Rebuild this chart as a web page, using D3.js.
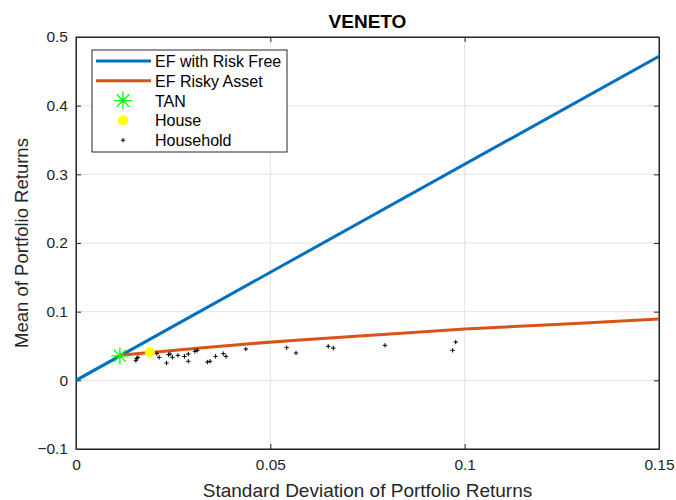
<!DOCTYPE html>
<html>
<head>
<meta charset="utf-8">
<script src="https://cdn.jsdelivr.net/npm/d3@7"></script>
<style>
  body { margin: 0; background: #fff; }
  text { font-family: "Liberation Sans", Arial, Helvetica, sans-serif; }
</style>
</head>
<body>
<div id="chart"></div>
<script>
// capital market line (EF with risk free)
const cmlSigma = [0, 0.15];
const cmlMean = [0, 0.472];

// efficient frontier of risky assets
const efSigma = [0.0113, 0.019, 0.0319, 0.0448, 0.0576, 0.0808, 0.1001, 0.1297, 0.15];
const efMean = [0.0364, 0.0405, 0.0472, 0.0534, 0.0588, 0.0676, 0.0746, 0.0833, 0.0893];

// tangency portfolio and house
const tanPoint = [0.0113, 0.0355];
const housePoint = [0.019, 0.041];

// households
const hhSigma = [0.0154, 0.0156, 0.0159, 0.0208, 0.0214, 0.0233, 0.0238, 0.0242,
  0.0248, 0.0262, 0.0279, 0.0289, 0.0289, 0.0306, 0.0312, 0.0338, 0.0345, 0.0359,
  0.0379, 0.0386, 0.0437, 0.0542, 0.0566, 0.0649, 0.0662, 0.0795, 0.0977, 0.0969];
const hhMean = [0.0287, 0.0316, 0.0335, 0.0389, 0.0335, 0.0252, 0.0374, 0.0383,
  0.0335, 0.0364, 0.0349, 0.0383, 0.0277, 0.0422, 0.0437, 0.0266, 0.0277, 0.0349,
  0.0389, 0.0349, 0.0456, 0.0476, 0.0398, 0.0495, 0.047, 0.051, 0.0558, 0.0437];

const xTicks = [0, 0.05, 0.1, 0.15];
const yTicks = [-0.1, 0, 0.1, 0.2, 0.3, 0.4, 0.5];

const width = 676;
const height = 500;
const margin = { left: 76, right: 17, top: 37, bottom: 51 };

const svg = d3.select("#chart")
  .append("svg")
  .attr("width", width)
  .attr("height", height);

const x = d3.scaleLinear().domain([0, 0.15]).range([margin.left, width - margin.right]);
const y = d3.scaleLinear().domain([-0.1, 0.5]).range([height - margin.bottom, margin.top]);

const axisColor = "#262626";

// grid
svg.append("g")
  .selectAll("line")
  .data(xTicks)
  .join("line")
  .attr("x1", d => x(d)).attr("x2", d => x(d))
  .attr("y1", y(0.5)).attr("y2", y(-0.1))
  .attr("stroke", "#e3e3e3");

svg.append("g")
  .selectAll("line")
  .data(yTicks)
  .join("line")
  .attr("x1", x(0)).attr("x2", x(0.15))
  .attr("y1", d => y(d)).attr("y2", d => y(d))
  .attr("stroke", "#e3e3e3");

// axes
svg.append("g")
  .attr("transform", `translate(0,${y(-0.1)})`)
  .call(d3.axisBottom(x).tickValues(xTicks).tickSizeInner(-5).tickSizeOuter(0).tickPadding(10)
    .tickFormat(d => d3.format("")(d)));

svg.append("g")
  .attr("transform", `translate(${x(0)},0)`)
  .call(d3.axisLeft(y).tickValues(yTicks).tickSizeInner(-5).tickSizeOuter(0).tickPadding(8)
    .tickFormat(d => d === 0 ? "0" : d3.format("")(+d.toFixed(1))));

// top and right ticks
svg.append("g")
  .attr("transform", `translate(0,${y(0.5)})`)
  .call(d3.axisTop(x).tickValues(xTicks).tickSizeInner(-5).tickSizeOuter(0).tickFormat(""));
svg.append("g")
  .attr("transform", `translate(${x(0.15)},0)`)
  .call(d3.axisRight(y).tickValues(yTicks).tickSizeInner(-5).tickSizeOuter(0).tickFormat(""));

svg.selectAll(".domain").attr("stroke", axisColor);
svg.selectAll(".tick line").attr("stroke", axisColor);
svg.selectAll(".tick text")
  .attr("fill", axisColor)
  .attr("font-size", "15.5px")
  .style("font-family", "Liberation Sans, Arial, sans-serif");

// box
svg.append("rect")
  .attr("x", x(0)).attr("y", y(0.5))
  .attr("width", x(0.15) - x(0)).attr("height", y(-0.1) - y(0.5))
  .attr("fill", "none").attr("stroke", axisColor);

// clip for lines
svg.append("clipPath").attr("id", "clip")
  .append("rect")
  .attr("x", x(0)).attr("y", y(0.5))
  .attr("width", x(0.15) - x(0)).attr("height", y(-0.1) - y(0.5));

const plot = svg.append("g").attr("clip-path", "url(#clip)");

const line = d3.line().x(d => x(d[0])).y(d => y(d[1]));

plot.append("path")
  .datum(cmlSigma.map((s, i) => [s, cmlMean[i]]))
  .attr("d", line)
  .attr("fill", "none")
  .attr("stroke", "#0072BD")
  .attr("stroke-width", 3);

plot.append("path")
  .datum(efSigma.map((s, i) => [s, efMean[i]]))
  .attr("d", d3.line().x(d => x(d[0])).y(d => y(d[1])).curve(d3.curveMonotoneX))
  .attr("fill", "none")
  .attr("stroke", "#D95319")
  .attr("stroke-width", 3);

// marker helpers
function plus(g, cx, cy, r, color, sw) {
  g.append("path")
    .attr("d", `M${cx - r},${cy}H${cx + r}M${cx},${cy - r}V${cy + r}`)
    .attr("stroke", color).attr("stroke-width", sw).attr("fill", "none");
}
function star(g, cx, cy, r, color, sw) {
  const d = `M${cx - r},${cy}H${cx + r}M${cx},${cy - r}V${cy + r}` +
    `M${cx - r * 0.7},${cy - r * 0.7}L${cx + r * 0.7},${cy + r * 0.7}` +
    `M${cx - r * 0.7},${cy + r * 0.7}L${cx + r * 0.7},${cy - r * 0.7}`;
  g.append("path").attr("d", d).attr("stroke", color).attr("stroke-width", sw).attr("fill", "none");
}

// households
const hh = plot.append("g");
hhSigma.forEach((s, i) => plus(hh, x(s), y(hhMean[i]), 2.2, "#000", 1));

// house
plot.append("circle")
  .attr("cx", x(housePoint[0])).attr("cy", y(housePoint[1]))
  .attr("r", 5).attr("fill", "#FFFF00");

// TAN
star(svg.append("g"), x(tanPoint[0]), y(tanPoint[1]), 8.5, "#00FF00", 1.3);

// title and labels
svg.append("text")
  .attr("x", (x(0) + x(0.15)) / 2).attr("y", 28)
  .attr("text-anchor", "middle")
  .attr("font-weight", "bold")
  .attr("font-size", "19px")
  .attr("fill", "#000")
  .text("VENETO");

svg.append("text")
  .attr("x", (x(0) + x(0.15)) / 2).attr("y", 497)
  .attr("text-anchor", "middle")
  .attr("font-size", "19px")
  .attr("fill", axisColor)
  .text("Standard Deviation of Portfolio Returns");

svg.append("text")
  .attr("transform", `translate(28,${(y(0.5) + y(-0.1)) / 2}) rotate(-90)`)
  .attr("text-anchor", "middle")
  .attr("font-size", "18.5px")
  .attr("fill", axisColor)
  .text("Mean of Portfolio Returns");

// ---------------------------LEGEND-----------------------------------
const legendItems = ["EF with Risk Free", "EF Risky Asset", "TAN", "House", "Household"];
const legend = svg.append("g").attr("transform", "translate(92,50)");

legend.append("rect")
  .attr("width", 195).attr("height", 102)
  .attr("fill", "#fff").attr("stroke", axisColor);

const entries = legend.selectAll("g")
  .data(legendItems)
  .join("g")
  .attr("transform", (d, i) => `translate(0,${11 + i * 19.8})`);

entries.append("text")
  .attr("x", 63).attr("y", 6)
  .attr("font-size", "16px")
  .attr("fill", "#000")
  .text(d => d);

entries.each(function (d, i) {
  const g = d3.select(this);
  if (i === 0 || i === 1) {
    g.append("line").attr("x1", 4).attr("x2", 59).attr("y1", 0).attr("y2", 0)
      .attr("stroke", i === 0 ? "#0072BD" : "#D95319").attr("stroke-width", 3);
  } else if (i === 2) {
    star(g, 31, 0, 9, "#00FF00", 1.3);
  } else if (i === 3) {
    g.append("circle").attr("cx", 31).attr("cy", 0).attr("r", 5).attr("fill", "#FFFF00");
  } else {
    plus(g, 31, 0, 2.2, "#000", 1);
  }
});
</script>
</body>
</html>
